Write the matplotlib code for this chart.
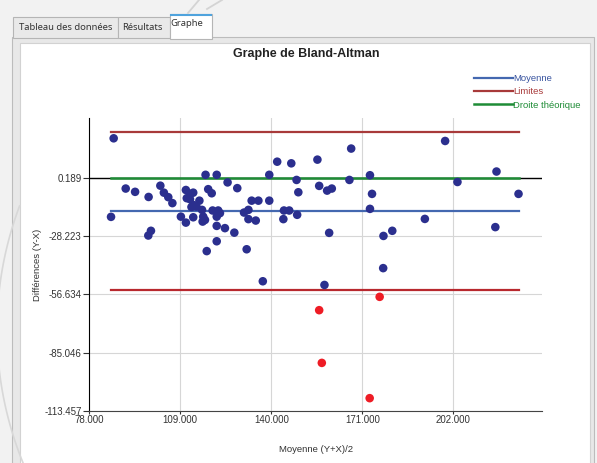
import numpy as np
import matplotlib
matplotlib.use("Agg")
import matplotlib.pyplot as plt
from matplotlib.patches import Rectangle
from matplotlib.lines import Line2D

plt.rcParams['font.family'] = ['Liberation Sans', 'DejaVu Sans']

# points (moyenne (Y+X)/2, difference Y-X)
moy_x = [86.3, 85.4, 90.4, 93.6, 98.2, 98.1, 99.0, 102.2, 103.4, 104.9,
         106.3, 109.2, 110.9, 110.9, 111.2, 112.3, 113.4, 112.3, 113.4, 112.8,
         114.5, 115.5, 116.4, 113.4, 116.8, 117.4, 116.6, 117.6, 118.5, 119.7,
         118.0, 120.0, 121.9, 122.5, 121.4, 121.4, 121.4, 121.4, 124.2, 125.1,
         127.4, 128.4, 130.7, 132.2, 132.2, 134.7, 131.6, 133.3, 135.6, 137.1,
         139.3, 139.3, 142.0, 144.3, 146.1, 144.1, 146.8, 148.6, 148.8, 149.2,
         155.7, 156.3, 159.0, 160.6, 159.7, 158.1, 166.6, 167.2, 173.6, 174.3,
         173.6, 178.2, 181.2, 178.1, 192.3, 199.2, 203.4, 216.7, 216.3, 224.2]
diff_y = [19.5, -18.8, -5.0, -6.6, -9.1, -27.9, -25.6, -3.6, -7.0, -9.2,
          -12.1, -18.7, -21.6, -5.7, -9.7, -7.6, -7.0, -10.2, -13.0, -14.0,
          -13.8, -10.9, -15.4, -19.0, -18.7, -20.3, -21.1, 1.7, -5.3, -7.3,
          -35.5, -15.7, -15.7, -17.0, -18.7, 1.7, -23.2, -30.7, -24.3, -2.0,
          -26.5, -4.8, -16.7, -15.4, -19.9, -20.6, -34.6, -10.9, -10.9, -50.2,
          1.7, -10.9, 8.1, -15.7, -15.7, -19.9, 7.3, -0.8, -17.8, -6.8,
          9.1, -3.7, -6.0, -5.0, -26.6, -52.0, -0.8, 14.5, 1.5, -7.6,
          -14.9, -28.1, -25.6, -43.8, -19.8, 18.2, -1.8, 3.3, -23.8, -7.6]

# points outside the limits (red)
out_x = [156.3, 176.9, 157.2, 173.5]
out_y = [-64.3, -57.8, -90.0, -107.2]

moyenne = -16.0
lim_sup = 22.6
lim_inf = -54.7
droite = 0.0

x_ticks = [78, 109, 140, 171, 202]
y_ticks = [-113.457, -85.046, -56.634, -28.223, 0.189]

W, H = 597, 463


def box(x0, y0, x1, y1):
    # pixel box (from top-left) -> figure fractions
    return (x0 / W, 1 - y1 / H), (x1 - x0) / W, (y1 - y0) / H


fig = plt.figure(figsize=(W / 100, H / 100), dpi=100, facecolor='#f2f2f2')

# window chrome: panel + tabs (behind the axes)
for (x0, y0, x1, y1, fc, ec) in [(12, 37, 594, 470, '#e8e8e8', '#bcbcbc'),
                                 (20, 43, 590, 470, 'white', '#d2d2d2'),
                                 (13, 17, 118, 38, '#e9e9e9', '#b5b5b5'),
                                 (118, 17, 170, 38, '#e9e9e9', '#b5b5b5'),
                                 (170, 14, 212, 39, 'white', '#b5b5b5')]:
    xy, w, h = box(x0, y0, x1, y1)
    fig.add_artist(Rectangle(xy, w, h, transform=fig.transFigure,
                             facecolor=fc, edgecolor=ec, lw=0.8, zorder=-5))
fig.add_artist(Line2D([171 / W, 211 / W], [1 - 14.5 / H, 1 - 14.5 / H],
                      transform=fig.transFigure, color='#4fa3dd', lw=1.5,
                      zorder=-4))

# faint watermark strokes of the screenshot
t = np.linspace(-0.36, 0.4, 60)
fig.add_artist(Line2D((349 - 352 * np.cos(t)) / W, 1 - (330 + 352 * np.sin(t)) / H,
                      transform=fig.transFigure, color='#d8d8d8', lw=1.2,
                      zorder=-4))
for (xa, ya, xb, yb) in [(199, 0, 188, 13), (222, 0, 207, 9)]:
    fig.add_artist(Line2D([xa / W, xb / W], [1 - ya / H, 1 - yb / H],
                          transform=fig.transFigure, color='#d4d4d4', lw=1.3,
                          zorder=-4))

fig.text(19 / W, 1 - 28 / H, 'Tableau des données', fontsize=6.8,
         color='#333333', va='center', family=['Noto Sans', 'DejaVu Sans'])
fig.text(122 / W, 1 - 28 / H, 'Résultats', fontsize=6.8,
         color='#333333', va='center', family=['Noto Sans', 'DejaVu Sans'])
fig.text(170.5 / W, 1 - 23 / H, 'Graphe', fontsize=6.8,
         color='#333333', va='center', family=['Noto Sans', 'DejaVu Sans'])

fig.text(306 / W, 1 - 54 / H, 'Graphe de Bland-Altman', fontsize=9,
         fontweight='bold', ha='center', va='center', color='#222222')

ax = fig.add_axes([89.3 / W, 1 - 411 / H, 453 / W, 293 / H])
ax.patch.set_alpha(0)
ax.set_axisbelow(True)
ax.set_xlim(78, 232.3)
ax.set_ylim(-113.457, 29.4)

xmin, xmax = min(moy_x), max(moy_x)
ax.axhline(droite, color='black', lw=1.0, zorder=1)
l_moy, = ax.plot([xmin, xmax], [moyenne, moyenne], color='#4468b0', lw=1.6,
                 label='Moyenne', zorder=2)
l_lim, = ax.plot([xmin, xmax], [lim_sup, lim_sup], color='#a83a3a', lw=1.6,
                 label='Limites', zorder=2)
ax.plot([xmin, xmax], [lim_inf, lim_inf], color='#b8282e', lw=1.6, zorder=2)
l_dr, = ax.plot([xmin, xmax], [droite, droite], color='#1e8c36', lw=1.8,
                label='Droite théorique', zorder=2)

ax.scatter(moy_x, diff_y, s=38, color='#2b2f8e', edgecolors='none', zorder=3)
ax.scatter(out_x, out_y, s=38, color='#ee1c25', edgecolors='none', zorder=3)

ax.set_xticks(x_ticks)
ax.set_yticks(y_ticks)
ax.set_xticklabels(['%.3f' % v for v in x_ticks])
ax.set_yticklabels(['%.3f' % v for v in y_ticks])
ax.tick_params(labelsize=7, labelcolor='#333333', length=4, width=0.8,
               color='#333333', pad=1.5)
ax.tick_params(axis='x', length=2, pad=1)
ax.grid(True, color='#d6d6d6', lw=0.8)
for s in ['top', 'right']:
    ax.spines[s].set_visible(False)
ax.spines['left'].set_color('black')
ax.spines['bottom'].set_color('#444444')

ax.set_xlabel('Moyenne (Y+X)/2', fontsize=6.8, color='#333333', labelpad=14)
ax.set_ylabel('Différences (Y-X)', fontsize=6.8, color='#333333', labelpad=2)

leg = ax.legend(handles=[l_moy, l_lim, l_dr], loc='upper left',
                bbox_to_anchor=(474 / W, 1 - 74 / H),
                bbox_transform=fig.transFigure, frameon=False, fontsize=6.8,
                borderpad=0, borderaxespad=0, handlelength=4.1,
                handletextpad=0.05, labelspacing=0.45)
for t, c in zip(leg.get_texts(), ['#3a55a0', '#a83a3a', '#1e8c36']):
    t.set_color(c)

fig.savefig('out.png', dpi=100, facecolor=fig.get_facecolor())
